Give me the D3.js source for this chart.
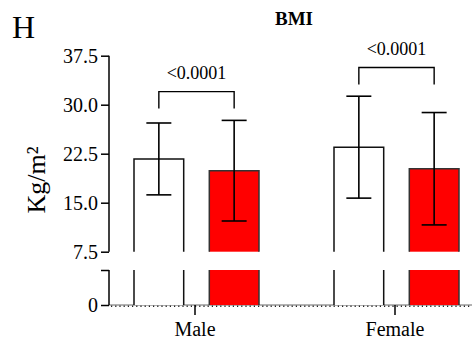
<!DOCTYPE html>
<html>
<head>
<meta charset="utf-8">
<script src="https://cdn.jsdelivr.net/npm/d3@7/dist/d3.min.js"></script>
<style>
  html, body { margin: 0; padding: 0; background: #fff; }
  svg { display: block; }
  text { font-family: "Liberation Serif", "Times New Roman", serif; fill: #000; }
</style>
</head>
<body>
<svg id="chart" width="472" height="341"></svg>
<script>
// BMI by sex, two groups per sex (mean ± SD), with broken y axis
const categories = ["Male", "Female"];
const seriesKeys = ["groupA", "groupB"];
const groupAMean = [21.7, 23.5];
const groupASD   = [5.5, 7.8];
const groupBMean = [19.9, 20.2];
const groupBSD   = [7.7, 8.6];
const pLabels    = ["<0.0001", "<0.0001"];
const upperTicks = [7.5, 15.0, 22.5, 30.0, 37.5];
const lowerTicks = [0];

const seriesFill = { groupA: "#ffffff", groupB: "#ff0000" };
const SERIF = '"Liberation Serif", "Times New Roman", serif';

const svg = d3.select("#chart");
const axisX = 109;

// scales: upper panel 7.5–37.5, lower panel 0–5 (axis break between)
const yUp = d3.scaleLinear().domain([7.5, 37.5]).range([251.7, 55.7]);
const yLo = d3.scaleLinear().domain([0, 5]).range([305, 270]);
const x0 = d3.scaleBand().domain(categories).range([95, 495]).padding(0);
const x1 = d3.scaleBand().domain(seriesKeys).range([39, 164]).paddingInner(0.34).paddingOuter(0);

const rows = [];
categories.forEach((c, i) => {
  rows.push({ cat: c, key: "groupA", mean: groupAMean[i], sd: groupASD[i] });
  rows.push({ cat: c, key: "groupB", mean: groupBMean[i], sd: groupBSD[i] });
});

const bw = x1.bandwidth();
const xl = d => x0(d.cat) + x1(d.key);
const xc = d => xl(d) + bw / 2;

// x baseline (dotted style)
svg.append("line")
  .attr("x1", axisX).attr("x2", 472).attr("y1", yLo(0)).attr("y2", yLo(0))
  .attr("stroke", "#666").attr("stroke-width", 1);
svg.append("line")
  .attr("x1", axisX + 2).attr("x2", 472).attr("y1", yLo(0) + 1.2).attr("y2", yLo(0) + 1.2)
  .attr("stroke", "#222").attr("stroke-width", 1.4).attr("stroke-dasharray", "1.2,3");

// bars: upper segment, then lower segment below the break
const bars = svg.append("g");
rows.forEach(d => {
  const top = yUp(d.mean), bot = yUp(7.5), L = xl(d), R = xl(d) + bw;
  const edge = d.key === "groupA" ? "#111" : "#333";
  bars.append("rect").attr("x", L).attr("y", top).attr("width", bw).attr("height", bot - top)
    .attr("fill", seriesFill[d.key]);
  bars.append("path").attr("d", `M${L},${bot}V${top}H${R}V${bot}`)
    .attr("fill", "none").attr("stroke", edge).attr("stroke-width", 1.5);
  const lt = yLo(5), lb = yLo(0);
  bars.append("rect").attr("x", L).attr("y", lt).attr("width", bw).attr("height", lb - lt)
    .attr("fill", seriesFill[d.key]);
  bars.append("path").attr("d", `M${L},${lt}V${lb}M${R},${lt}V${lb}`)
    .attr("fill", "none").attr("stroke", edge).attr("stroke-width", 1.5);
});

// error bars
const capW = 25;
const err = svg.append("g").attr("stroke", "#000").attr("stroke-width", 1.6);
rows.forEach(d => {
  const cx = xc(d), t = yUp(d.mean + d.sd), b = yUp(d.mean - d.sd);
  err.append("line").attr("x1", cx).attr("x2", cx).attr("y1", t).attr("y2", b);
  err.append("line").attr("x1", cx - capW / 2).attr("x2", cx + capW / 2).attr("y1", t).attr("y2", t);
  err.append("line").attr("x1", cx - capW / 2).attr("x2", cx + capW / 2).attr("y1", b).attr("y2", b);
});

// y axes (upper and lower panels)
const axUp = svg.append("g").attr("transform", `translate(${axisX},0)`)
  .call(d3.axisLeft(yUp).tickValues(upperTicks).tickFormat(d3.format(".1f")).tickSize(8).tickPadding(3));
const axLo = svg.append("g").attr("transform", `translate(${axisX},0)`)
  .call(d3.axisLeft(yLo).tickValues([0, 5]).tickFormat(v => lowerTicks.includes(v) ? String(v) : "").tickSize(8).tickPadding(3));
[[axUp, yUp], [axLo, yLo]].forEach(([ax, sc]) => {
  const r = sc.range();
  ax.attr("font-family", null);
  ax.select(".domain").attr("d", `M0,${r[0]}V${r[1]}`)
    .attr("stroke", "#000").attr("stroke-width", 1.5);
  ax.selectAll(".tick line").attr("stroke", "#000").attr("stroke-width", 1.5);
  ax.selectAll(".tick text").style("font-family", SERIF).attr("font-size", 20).attr("fill", "#000");
});

// x axis ticks and labels
const xt = svg.append("g");
categories.forEach(c => {
  const cx = x0(c) + x0.bandwidth() / 2;
  xt.append("line").attr("x1", cx).attr("x2", cx).attr("y1", yLo(0)).attr("y2", yLo(0) + 10)
    .attr("stroke", "#000").attr("stroke-width", 1.5);
  xt.append("text").attr("x", cx).attr("y", 335.5).attr("text-anchor", "middle")
    .style("font-family", SERIF).attr("font-size", 20).text(c);
});

// significance brackets
const br = svg.append("g");
categories.forEach((c, i) => {
  const a = rows.find(r => r.cat === c && r.key === "groupA");
  const b = rows.find(r => r.cat === c && r.key === "groupB");
  const maxTop = Math.max(a.mean + a.sd, b.mean + b.sd);
  const legV = maxTop + 1.8, barV = legV + 2.6;
  const y1 = yUp(barV), y2 = yUp(legV);
  br.append("path").attr("d", `M${xc(a)},${y2}V${y1}H${xc(b)}V${y2}`)
    .attr("fill", "none").attr("stroke", "#000").attr("stroke-width", 1.4);
  br.append("text").attr("x", (xc(a) + xc(b)) / 2).attr("y", y1 - 12.3)
    .attr("text-anchor", "middle").style("font-family", SERIF).attr("font-size", 18).text(pLabels[i]);
});

// titles
svg.append("text").attr("x", 12).attr("y", 38).style("font-family", SERIF).attr("font-size", 32).text("H");
svg.append("text").attr("x", 294).attr("y", 25).attr("text-anchor", "middle").style("font-family", SERIF)
  .attr("font-size", 19).attr("font-weight", "bold").text("BMI");
svg.append("text").attr("transform", "translate(45,180) rotate(-90)").attr("text-anchor", "middle")
  .style("font-family", SERIF).attr("font-size", 26).text("Kg/m²");
</script>
</body>
</html>
